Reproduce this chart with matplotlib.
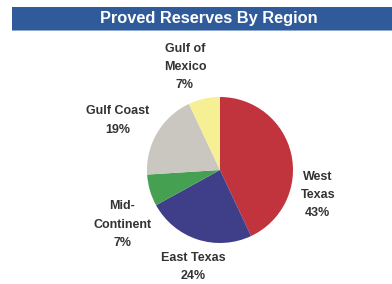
import matplotlib
matplotlib.use("Agg")
import matplotlib.pyplot as plt
from matplotlib.patches import Rectangle

regions = ["West\nTexas", "East Texas", "Mid-\nContinent", "Gulf Coast", "Gulf of\nMexico"]
shares = [43, 24, 7, 19, 7]
colors = ["#C1343E", "#3E3F88", "#46A052", "#C9C7BF", "#F7EF94"]
title = "Proved Reserves By Region"

# label anchor positions in pie-data units (layout only)
label_pos = [(1.34, -0.34), (-0.37, -1.33), (-1.34, -0.75), (-1.40, 0.68), (-0.48, 1.41)]

W, H = 392, 284
fig = plt.figure(figsize=(W / 100, H / 100), dpi=100)
fig.patch.set_facecolor("white")

# title bar
fig.patches.append(Rectangle((12 / W, 1 - 30 / H), 1 - 12 / W, 23 / H,
                             transform=fig.transFigure, facecolor="#2F5B9B",
                             edgecolor="none", zorder=0))
fig.patches.append(Rectangle((12 / W, 1 - 31 / H), 1 - 12 / W, 1.2 / H,
                             transform=fig.transFigure, facecolor="#8FA8D0",
                             edgecolor="none", zorder=0))
fig.text(208.5 / W, 1 - 18.5 / H, title, color="white",
         fontsize=11.8, fontweight="bold", family="Liberation Sans",
         ha="center", va="center")

cx, cy, r = 220, 170, 73
ax = fig.add_axes([(cx - r) / W, (H - cy - r) / H, 2 * r / W, 2 * r / H])
ax.pie(shares, colors=colors, startangle=90, counterclock=False,
       wedgeprops=dict(linewidth=0))
ax.set_xlim(-1, 1)
ax.set_ylim(-1, 1)
ax.set_aspect("equal")
ax.axis("off")

for name, val, (x, y) in zip(regions, shares, label_pos):
    ax.text(x, y, f"{name}\n{val}%", ha="center", va="center",
            fontsize=9, fontweight="bold", family="Liberation Sans",
            color="#333333", linespacing=1.7, clip_on=False)

fig.savefig("out.png", dpi=100)
